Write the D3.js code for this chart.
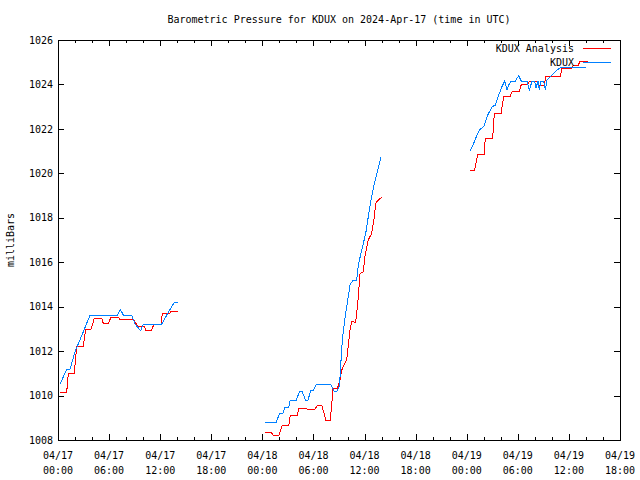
<!DOCTYPE html>
<html><head><meta charset="utf-8">
<script src="https://cdn.jsdelivr.net/npm/d3@7"></script>
<style>
html,body{margin:0;padding:0;background:#fff;}
svg text{font-family:"DejaVu Sans Mono","Liberation Mono",monospace;font-size:10px;fill:#000;}
</style></head>
<body><svg id="c" width="640" height="480"></svg>
<script>
// Hours since 2024-04-17 00:00 UTC; null separates data gaps
const analysisHours = [0.23,1.02,1.21,1.92,2.19,2.97,3.25,3.88,4.27,5.13,5.32,5.91,6.22,7.08,7.28,8.85,9.36,10.14,10.3,11.0,11.24,12.1,12.25,13.15,13.27,14.06,null,
  24.35,25.05,25.25,25.95,26.31,27.09,27.28,28.1,28.3,29.16,29.36,30.15,30.45,31.0,31.44,31.98,32.3,32.8,33.12,33.32,33.7,33.9,34.09,34.29,34.49,34.96,35.08,35.27,35.47,35.85,36.05,36.44,36.84,37.15,37.31,37.62,38.01,null,
  48.42,48.93,49.28,50.03,50.18,51.04,51.24,52.03,52.34,53.08,53.32,54.18,54.41,55.19,55.35,56.25,56.45,57.16,57.23,58.99,59.19,60.36,60.56,61.1,61.33,62.24];
const analysisValues = [1010.14,1010.14,1011.0,1011.0,1012.23,1012.23,1012.98,1012.98,1013.48,1013.48,1013.25,1013.25,1013.52,1013.52,1013.43,1013.43,1013.13,1013.13,1012.95,1012.95,1013.18,1013.18,1013.7,1013.7,1013.8,1013.8,null,
  1008.35,1008.35,1008.21,1008.21,1008.64,1008.64,1009.12,1009.12,1009.42,1009.42,1009.37,1009.37,1009.55,1009.55,1008.9,1008.9,1010.3,1010.3,1010.7,1011.15,1011.45,1011.6,1012.27,1012.95,1013.32,1013.3,1013.7,1014.45,1015.5,1015.57,1016.25,1017.0,1017.3,1018.05,1018.65,1018.8,1018.92,null,
  1020.15,1020.15,1020.83,1020.83,1021.57,1021.57,1022.7,1022.7,1023.45,1023.45,1023.67,1023.67,1024.0,1024.0,1024.15,1024.15,1023.97,1023.97,1024.35,1024.35,1024.73,1024.73,1024.87,1024.87,1025.05,1025.05];

const kduxHours = [0.23,1.02,1.41,2.0,2.9,3.76,7.01,7.32,7.67,8.65,9.04,9.71,10.02,12.18,12.77,13.66,14.06,null,
  24.35,25.63,26.03,26.42,26.62,27.09,27.28,27.99,28.38,28.66,29.05,29.36,29.67,29.95,30.34,32.02,32.41,32.72,33.0,33.12,33.24,33.39,33.62,33.82,34.09,34.29,34.68,35.08,35.27,35.67,36.14,36.44,36.76,37.15,37.55,37.93,null,
  48.42,48.82,49.21,49.6,50.0,50.38,50.97,51.36,51.76,52.14,52.46,52.73,52.93,53.24,53.71,54.1,54.41,55.08,55.35,55.67,55.98,56.14,56.37,56.52,56.72,57.04,57.23,57.43,57.82,58.21,58.6,58.99,62.01];
const kduxValues = [1010.5,1011.18,1011.18,1011.97,1012.8,1013.62,1013.62,1013.88,1013.62,1013.62,1013.22,1012.92,1013.22,1013.22,1013.62,1014.2,1014.2,null,
  1008.8,1008.8,1009.2,1009.2,1009.47,1009.47,1009.8,1009.8,1010.2,1010.2,1009.8,1009.8,1010.22,1010.22,1010.5,1010.5,1010.2,1010.17,1010.37,1010.85,1011.6,1012.5,1013.25,1013.78,1014.45,1014.98,1015.2,1015.2,1015.88,1016.55,1017.3,1018.05,1018.8,1019.55,1020.15,1020.72,null,
  1021.02,1021.35,1021.73,1022.0,1022.1,1022.55,1023.0,1023.07,1023.52,1023.9,1024.15,1023.75,1023.97,1024.15,1024.15,1024.4,1024.15,1024.15,1023.75,1024.15,1024.15,1023.85,1024.15,1023.75,1024.15,1024.15,1023.75,1024.2,1024.35,1024.5,1024.65,1024.75,1024.75];

const yTicks = [1008,1010,1012,1014,1016,1018,1020,1022,1024,1026];
const seriesNames = ["KDUX Analysis","KDUX"];
const seriesColors = ["#ff0000","#0080ff"];
const titleText = "Barometric Pressure for KDUX on 2024-Apr-17 (time in UTC)";
const yLabel = "milliBars";

const t0 = Date.UTC(2024,3,17,0,0);
const hr = 3600e3;
const toDate = h => new Date(t0 + h*hr);

const L=58,R=620,T=40,B=440;
const svg = d3.select("#c");
const x = d3.scaleUtc().domain([toDate(0), toDate(66)]).range([L,R]);
const y = d3.scaleLinear().domain([1008,1026]).range([B,T]);

const majorX = d3.utcHour.every(6).range(toDate(0), toDate(66.01));
const minorX = d3.utcHour.every(2).range(toDate(0), toDate(66.01));

function styleAxis(g){ g.select(".domain").remove(); g.selectAll("line").attr("stroke","#000").attr("shape-rendering","crispEdges"); }

svg.append("g").attr("transform",`translate(0,${B})`).call(d3.axisBottom(x).tickValues(minorX).tickSize(-3).tickFormat("")).call(styleAxis);
svg.append("g").attr("transform",`translate(0,${B})`).call(d3.axisBottom(x).tickValues(majorX).tickSize(-6).tickFormat("")).call(styleAxis);
svg.append("g").attr("transform",`translate(0,${T})`).call(d3.axisTop(x).tickValues(minorX).tickSize(-3).tickFormat("")).call(styleAxis);
svg.append("g").attr("transform",`translate(0,${T})`).call(d3.axisTop(x).tickValues(majorX).tickSize(-6).tickFormat("")).call(styleAxis);

const yl = svg.append("g").attr("transform",`translate(${L},0)`).call(d3.axisLeft(y).tickValues(yTicks).tickSize(-6).tickPadding(5).tickFormat(d3.format("d")));
styleAxis(yl);
yl.selectAll("text").style("font-family",'"DejaVu Sans Mono",monospace').style("font-size","10px").attr("fill","#000");
svg.append("g").attr("transform",`translate(${R},0)`).call(d3.axisRight(y).tickValues(yTicks).tickSize(-6).tickFormat("")).call(styleAxis);

// x labels (two lines)
const fmtD = d3.utcFormat("%m/%d"), fmtT = d3.utcFormat("%H:%M");
const xl = svg.append("g").selectAll("text").data(majorX).join("text")
  .attr("x", d=>x(d)).attr("y", B+19).attr("text-anchor","middle");
xl.append("tspan").attr("x",d=>x(d)).text(fmtD);
xl.append("tspan").attr("x",d=>x(d)).attr("dy",15).text(fmtT);

// border
svg.append("rect").attr("x",L+0.5).attr("y",T+0.5).attr("width",R-L).attr("height",B-T)
  .attr("fill","none").attr("stroke","#000").attr("shape-rendering","crispEdges");

// title and y label
svg.append("text").attr("x",(L+R)/2).attr("y",23).attr("text-anchor","middle").text(titleText);
svg.append("text").attr("transform","translate(14,240) rotate(-90)").attr("text-anchor","middle").text(yLabel);

const line = d3.line().defined(d=>d[1]!=null).x(d=>x(toDate(d[0]))).y(d=>y(d[1]));
const series = [
  analysisHours.map((h,i)=>[h, h==null?null:analysisValues[i]]),
  kduxHours.map((h,i)=>[h, h==null?null:kduxValues[i]])
];
series.forEach((s,i)=>{
  svg.append("path").datum(s).attr("d",line).attr("fill","none")
    .attr("stroke",seriesColors[i]).attr("stroke-width",1).attr("shape-rendering","crispEdges");
});

// legend
const lg = svg.append("g");
seriesNames.forEach((n,i)=>{
  const ly = 48 + i*14;
  lg.append("text").attr("x",574).attr("y",ly+4).attr("text-anchor","end").text(n);
  lg.append("line").attr("x1",583).attr("x2",611).attr("y1",ly+0.5).attr("y2",ly+0.5)
    .attr("stroke",seriesColors[i]).attr("stroke-width",1).attr("shape-rendering","crispEdges");
});
</script></body></html>
